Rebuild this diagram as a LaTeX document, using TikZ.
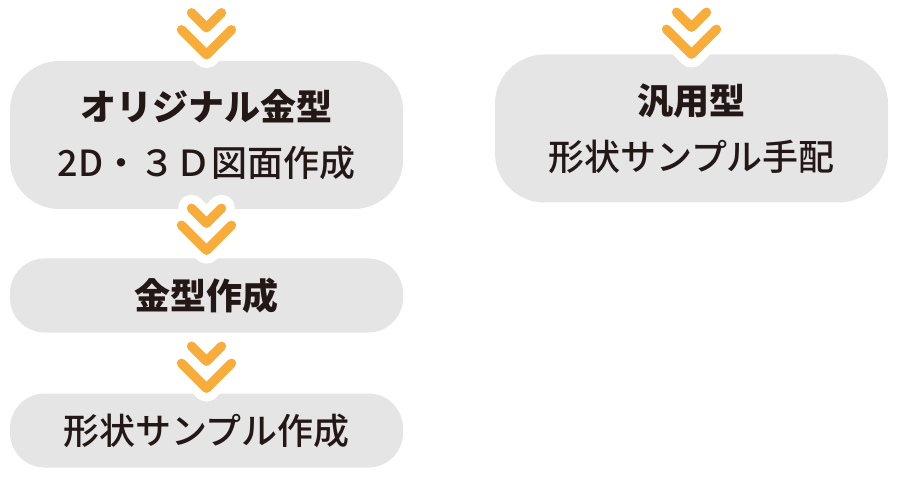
\documentclass[tikz,border=0pt]{standalone}
\usepackage{xcolor}
\usepackage{fontspec}
\setmainfont{Noto Sans CJK JP}
\newfontfamily\jpmed{Noto Sans CJK JP Medium}
\usepackage{tikz}
\usetikzlibrary{positioning}

\begin{document}
\begin{tikzpicture}[x=0.75pt, y=-0.75pt, line cap=round, line join=round,
    every node/.style={align=center},
    stepbox/.style={fill=boxbg, draw=none, text=txtcol, minimum width=294.75pt,
      font=\fontsize{27}{42}\selectfont},
    tallbox/.style={stepbox, minimum height=111pt, rounded corners=37pt},
    lowbox/.style={stepbox, minimum height=55.5pt, rounded corners=26pt},
    dchev/.pic={
      \draw[white, line width=20pt] (-15,-42) -- (0,-27) -- (15,-42)
        (-25,-25) -- (0,0) -- (25,-25);
      \draw[chevcol, line width=7pt] (-15,-42) -- (0,-27) -- (15,-42)
        (-25,-25) -- (0,0) -- (25,-25);
    }]
      \definecolor{boxbg}{RGB}{229,229,229} \definecolor{txtcol}{RGB}{35,24,21}
      \definecolor{chevcol}{RGB}{248,173,59}
      \useasboundingbox (0,0) rectangle (899,477);

      % left column
      \node[tallbox] (orig) at (206.5,135) {\bfseries オリジナル金型\\{\jpmed 2D・３Ｄ図面作成}};
      \node[lowbox] (mold) at (206.5,295.5) {\bfseries 金型作成};
      \node[lowbox] (sample) at (206.5,430.5) {\jpmed 形状サンプル作成};
      % right column
      \node[tallbox] (general) at (691.5,128.5) {\bfseries 汎用型\\{\jpmed 形状サンプル手配}};

      \pic at ([yshift=4.5pt]orig.north) {dchev};
      \pic at ([yshift=6pt]mold.north) {dchev};
      \pic at ([yshift=3.75pt]sample.north) {dchev};
      \pic at ([yshift=0pt]general.north) {dchev};
    \end{tikzpicture}
\end{document}
